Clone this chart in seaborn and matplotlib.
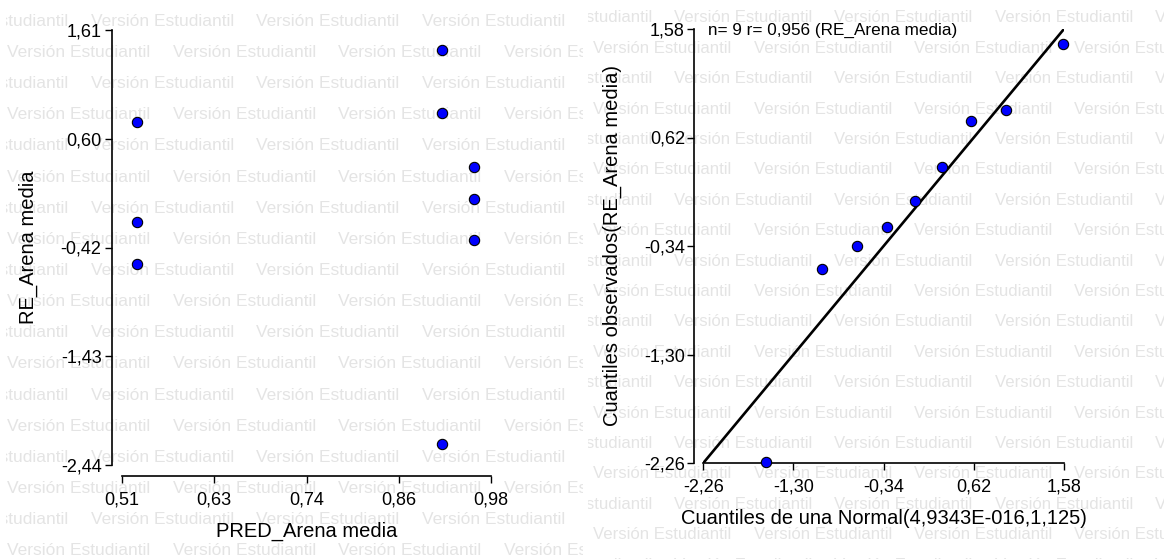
import matplotlib
matplotlib.use('Agg')
import matplotlib.pyplot as plt
import seaborn as sns

# residuos vs predichos
pred_arena = [0.917, 0.529, 0.917, 0.958, 0.958, 0.529, 0.958, 0.529, 0.917]
re_arena = [1.424, 0.756, 0.840, 0.332, 0.039, -0.180, -0.348, -0.572, -2.245]

# QQ-plot normal
cuant_normal = [-1.595, -0.996, -0.626, -0.300, -0.009, 0.282, 0.594, 0.964, 1.567]
cuant_obs = [-2.249, -0.547, -0.343, -0.172, 0.055, 0.356, 0.763, 0.861, 1.447]
recta_qq = [-2.26, 1.58]

pred_ticks = [0.51, 0.6275, 0.745, 0.8625, 0.98]
pred_labels = ['0,51', '0,63', '0,74', '0,86', '0,98']
re_ticks = [-2.44, -1.4275, -0.415, 0.5975, 1.61]
re_labels = ['-2,44', '-1,43', '-0,42', '0,60', '1,61']
qq_ticks = [-2.26, -1.30, -0.34, 0.62, 1.58]
qq_labels = ['-2,26', '-1,30', '-0,34', '0,62', '1,58']

W, H = 1164, 559

sns.set_theme(style='ticks')
plt.rcParams['font.family'] = ['Liberation Sans', 'DejaVu Sans']
plt.rcParams.update({'axes.edgecolor': 'black', 'text.color': 'black',
                     'axes.labelcolor': 'black', 'xtick.color': 'black',
                     'ytick.color': 'black', 'axes.linewidth': 1.2})

fig = plt.figure(figsize=(W / 100, H / 100), dpi=100)

# marca de agua de fondo (una por cada imagen)
marca = 'Versión Estudiantil'
for x0, x1, y0, dy, xa, xb, dx, fs in [(6, 583, 25.8, 31.15, 90.7, 7.3, 165.5, 12.5),
                                       (588, W, 22.5, 30.4, 674, 593.3, 160.3, 12.1)]:
    bg = fig.add_axes([x0 / W, 0, (x1 - x0) / W, 1], zorder=-1)
    bg.set_xlim(x0, x1)
    bg.set_ylim(H, 0)
    bg.axis('off')
    for k in range(20):
        xs = xa if k % 2 == 0 else xb
        for j in range(-1, 5):
            bg.text(xs + j * dx, y0 + k * dy, marca, fontsize=fs, color='#e4e4e4',
                    va='baseline', clip_on=True)

# panel izquierdo
ax1 = fig.add_axes([122 / W, 1 - 465 / H, 369 / W, 435 / H])
ax1.set_facecolor('none')
sns.scatterplot(x=pred_arena, y=re_arena, ax=ax1, color='#0000ff', edgecolor='black',
                linewidth=0.8, s=55, zorder=3, clip_on=False)
ax1.set_xlim(0.51, 0.98)
ax1.set_ylim(-2.44, 1.61)
ax1.set_xticks(pred_ticks, pred_labels)
ax1.set_yticks(re_ticks, re_labels)
sns.despine(ax=ax1)
ax1.spines['left'].set_position(('outward', 7.2))
ax1.spines['bottom'].set_position(('outward', 7.9))
ax1.tick_params(labelsize=13, length=5, width=1)
ax1.tick_params(axis='x', pad=6.3)
ax1.tick_params(axis='y', pad=2.5)
ax1.set_xlabel('PRED_Arena media', fontsize=14.5, labelpad=9.2)
ax1.set_ylabel('RE_Arena media', fontsize=14.5, labelpad=16.5)

# panel derecho
ax2 = fig.add_axes([703.3 / W, 1 - 463 / H, 360.7 / W, 434 / H])
ax2.set_facecolor('none')
sns.lineplot(x=recta_qq, y=recta_qq, ax=ax2, color='black', linewidth=1.9)
sns.scatterplot(x=cuant_normal, y=cuant_obs, ax=ax2, color='#0000ff', edgecolor='black',
                linewidth=0.8, s=55, zorder=3, clip_on=False)
ax2.set_xlim(-2.26, 1.58)
ax2.set_ylim(-2.26, 1.58)
ax2.set_xticks(qq_ticks, qq_labels)
ax2.set_yticks(qq_ticks, qq_labels)
sns.despine(ax=ax2)
ax2.spines['left'].set_position(('outward', 6.7))
ax2.tick_params(labelsize=13, length=5, width=1)
ax2.tick_params(axis='x', pad=6.3)
ax2.tick_params(axis='y', pad=1.5)
ax2.set_xlabel('Cuantiles de una Normal(4,9343E-016,1,125)', fontsize=14.5, labelpad=9.6)
ax2.set_ylabel('Cuantiles observados(RE_Arena media)', fontsize=14.5, labelpad=16)
ax2.text(0.012, 0.986, 'n= 9 r= 0,956 (RE_Arena media)', transform=ax2.transAxes,
         fontsize=12.3, va='baseline')

fig.savefig('out.png', dpi=100)
